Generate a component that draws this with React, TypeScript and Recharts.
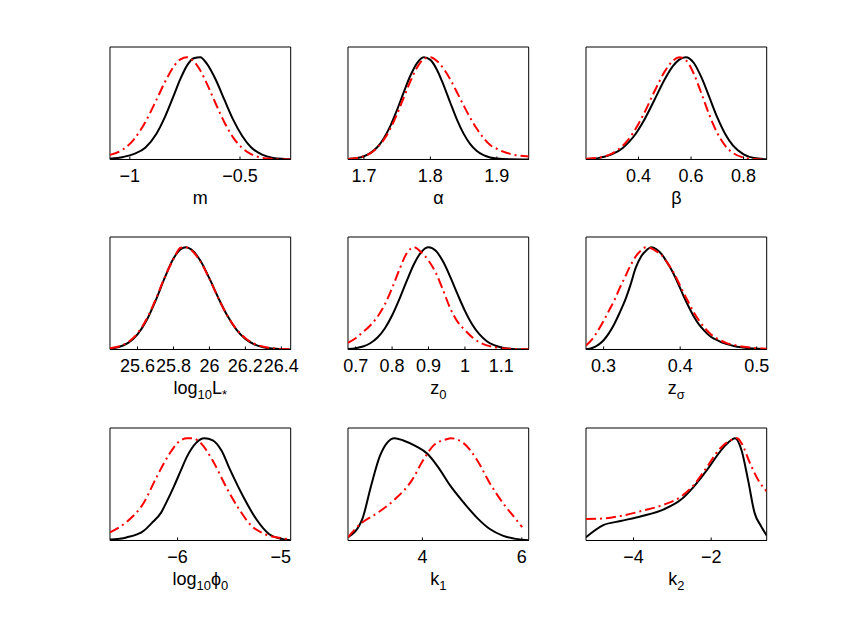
import React from 'react';
import { LineChart, Line, XAxis, YAxis, ReferenceArea } from 'recharts';

// ---------- Panel 1: m ----------
const mX = [-1.09, -1.03, -0.98, -0.93, -0.88, -0.84, -0.8, -0.77, -0.74, -0.71, -0.68, -0.65, -0.61, -0.57, -0.53, -0.49, -0.45, -0.4, -0.35, -0.3, -0.27];
const mBlack = [0.008, 0.025, 0.055, 0.115, 0.25, 0.42, 0.63, 0.79, 0.92, 0.99, 1.0, 0.935, 0.78, 0.58, 0.385, 0.23, 0.12, 0.047, 0.015, 0.005, 0.002];
const mRed = [0.045, 0.1, 0.2, 0.365, 0.58, 0.76, 0.912, 0.98, 1.0, 0.96, 0.87, 0.74, 0.545, 0.36, 0.212, 0.112, 0.052, 0.017, 0.005, 0.001, 0.0];
const mTicks = [-1, -0.5];

// ---------- Panel 2: alpha ----------
const aX = [1.676, 1.69, 1.7, 1.71, 1.72, 1.73, 1.74, 1.75, 1.76, 1.77, 1.78, 1.79, 1.8, 1.81, 1.82, 1.83, 1.84, 1.85, 1.86, 1.87, 1.88, 1.89, 1.9, 1.92, 1.948];
const aBlack = [0.004, 0.014, 0.032, 0.065, 0.12, 0.208, 0.331, 0.487, 0.659, 0.821, 0.943, 1.0, 0.974, 0.876, 0.726, 0.555, 0.39, 0.253, 0.151, 0.083, 0.042, 0.02, 0.009, 0.002, 0.0];
const aRed = [0.005, 0.015, 0.032, 0.063, 0.115, 0.194, 0.305, 0.446, 0.607, 0.766, 0.9, 0.982, 1.0, 0.962, 0.887, 0.782, 0.658, 0.529, 0.407, 0.3, 0.21, 0.141, 0.105, 0.055, 0.03];
const aTicks = [1.7, 1.8, 1.9];

// ---------- Panel 3: beta ----------
const bX = [0.2, 0.25, 0.3, 0.34, 0.38, 0.42, 0.46, 0.5, 0.53, 0.555, 0.58, 0.61, 0.64, 0.67, 0.7, 0.73, 0.76, 0.8, 0.84, 0.888];
const bBlack = [0.004, 0.016, 0.052, 0.113, 0.22, 0.38, 0.58, 0.785, 0.91, 0.977, 1.0, 0.946, 0.8, 0.607, 0.411, 0.249, 0.135, 0.051, 0.015, 0.003];
const bRed = [0.008, 0.019, 0.061, 0.135, 0.262, 0.445, 0.662, 0.862, 0.963, 1.0, 0.972, 0.841, 0.642, 0.433, 0.258, 0.135, 0.063, 0.019, 0.004, 0.0];
const bTicks = [0.4, 0.6, 0.8];

// ---------- Panel 4: log10 L* ----------
const lX = [25.447, 25.5, 25.55, 25.6, 25.65, 25.7, 25.75, 25.8, 25.84, 25.87, 25.9, 25.95, 26.0, 26.05, 26.1, 26.15, 26.2, 26.25, 26.3, 26.35, 26.4, 26.452];
const lBlack = [0.009, 0.027, 0.067, 0.148, 0.283, 0.475, 0.695, 0.889, 0.982, 1.0, 0.977, 0.867, 0.695, 0.503, 0.329, 0.195, 0.104, 0.05, 0.022, 0.009, 0.003, 0.001];
const lRed = [0.012, 0.032, 0.075, 0.158, 0.295, 0.485, 0.7, 0.885, 0.995, 1.0, 0.97, 0.86, 0.69, 0.5, 0.33, 0.2, 0.11, 0.056, 0.027, 0.012, 0.004, 0.002];
const lTicks = [25.6, 25.8, 26, 26.2, 26.4];

// ---------- Panel 5: z0 ----------
const zX = [0.679, 0.7, 0.72, 0.74, 0.76, 0.78, 0.8, 0.82, 0.84, 0.86, 0.88, 0.9, 0.92, 0.94, 0.96, 0.98, 1.0, 1.02, 1.04, 1.06, 1.08, 1.1, 1.13, 1.175];
const zBlack = [0.005, 0.013, 0.029, 0.061, 0.117, 0.205, 0.332, 0.492, 0.669, 0.834, 0.953, 1.0, 0.965, 0.86, 0.708, 0.538, 0.378, 0.245, 0.147, 0.081, 0.042, 0.02, 0.006, 0.001];
const zRed = [0.066, 0.11, 0.17, 0.235, 0.32, 0.44, 0.6, 0.78, 0.94, 1.0, 0.95, 0.87, 0.75, 0.58, 0.4, 0.27, 0.19, 0.12, 0.07, 0.04, 0.023, 0.013, 0.006, 0.003];
const zTicks = [0.7, 0.8, 0.9, 1, 1.1];

// ---------- Panel 6: z sigma ----------
const sX = [0.277, 0.285, 0.293, 0.3, 0.307, 0.314, 0.321, 0.328, 0.335, 0.342, 0.349, 0.356, 0.362, 0.369, 0.376, 0.383, 0.39, 0.397, 0.404, 0.411, 0.418, 0.425, 0.432, 0.44, 0.45, 0.46, 0.47, 0.48, 0.495, 0.513];
const sBlack = [0.003, 0.015, 0.045, 0.09, 0.16, 0.25, 0.36, 0.48, 0.63, 0.8, 0.91, 0.97, 1.0, 0.98, 0.93, 0.85, 0.76, 0.65, 0.53, 0.42, 0.32, 0.24, 0.18, 0.125, 0.085, 0.055, 0.035, 0.022, 0.01, 0.003];
const sRed = [0.04, 0.1, 0.19, 0.28, 0.38, 0.48, 0.6, 0.71, 0.82, 0.91, 0.97, 1.0, 0.99, 0.96, 0.92, 0.85, 0.77, 0.67, 0.56, 0.46, 0.36, 0.28, 0.21, 0.15, 0.1, 0.065, 0.045, 0.03, 0.016, 0.008];
const sTicks = [0.3, 0.4, 0.5];

// ---------- Panel 7: log10 phi0 ----------
const pBlackX = [-6.654, -6.495, -6.327, -6.25, -6.161, -6.1, -6.035, -5.97, -5.909, -5.825, -5.741, -5.659, -5.575, -5.491, -5.365, -5.239, -5.115, -4.989, -4.905];
const pBlack = [0.01, 0.03, 0.096, 0.17, 0.27, 0.39, 0.53, 0.68, 0.82, 0.95, 1.0, 0.98, 0.88, 0.69, 0.43, 0.21, 0.064, 0.016, 0.003];
const pRedX = [-6.654, -6.495, -6.327, -6.203, -6.077, -5.993, -5.909, -5.85, -5.783, -5.659, -5.533, -5.407, -5.281, -5.157, -4.989, -4.905];
const pRed = [0.08, 0.18, 0.37, 0.62, 0.85, 0.96, 1.0, 1.0, 0.96, 0.78, 0.53, 0.31, 0.14, 0.064, 0.022, 0.01];
const pTicks = [-6, -5];

// ---------- Panel 8: k1 ----------
const k1BlackX = [2.503, 2.79, 2.964, 3.138, 3.285, 3.442, 3.616, 3.877, 4.095, 4.313, 4.572, 4.834, 5.096, 5.357, 5.616, 5.878, 6.139];
const k1Black = [0.032, 0.208, 0.529, 0.818, 0.953, 1.0, 0.978, 0.92, 0.85, 0.72, 0.529, 0.369, 0.224, 0.112, 0.048, 0.016, 0.003];
const k1RedX = [2.503, 2.747, 3.096, 3.441, 3.79, 4.008, 4.226, 4.485, 4.572, 4.834, 5.096, 5.357, 5.616, 5.878, 6.008];
const k1Red = [0.032, 0.16, 0.27, 0.4, 0.59, 0.78, 0.93, 0.99, 1.0, 0.95, 0.79, 0.56, 0.37, 0.21, 0.13];
const k1Ticks = [4, 6];

// ---------- Panel 9: k2 ----------
const k2BlackX = [-5.223, -4.777, -4.333, -3.776, -3.218, -2.775, -2.44, -2.106, -1.77, -1.552, -1.384, -1.216, -1.049, -0.882, -0.714, -0.57];
const k2Black = [0.032, 0.15, 0.19, 0.24, 0.305, 0.4, 0.53, 0.69, 0.87, 0.96, 1.0, 0.88, 0.59, 0.27, 0.14, 0.048];
const k2RedX = [-5.223, -4.777, -4.333, -3.776, -3.218, -2.775, -2.44, -2.106, -1.77, -1.496, -1.329, -1.216, -0.993, -0.77, -0.57];
const k2Red = [0.21, 0.215, 0.24, 0.29, 0.35, 0.43, 0.545, 0.72, 0.9, 0.98, 1.0, 0.95, 0.75, 0.58, 0.48];
const k2Ticks = [-4, -2];

// ---------- layout / style ----------
const FONT = '"Liberation Sans", Arial, Helvetica, sans-serif';
const FS = 18;
const FS_SUB = 13;
const COL_X = [110.1, 347.9, 585.8];
const ROW_Y = [47.3, 237, 428.2];
const PW = 180.7;
const PH = 112.5;
const ML = 24;
const MR = 24;
const MT = 10;
const MB = 40;
const XH = 30;
const TOPH = 1;
const Y_DOMAIN: [number, number] = [0, 1.1];

type Part = { t: string; sub?: boolean };
type PanelDef = {
  col: number;
  row: number;
  domain: [number, number];
  ticks: number[];
  bx: number[];
  by: number[];
  rx: number[];
  ry: number[];
  label: Part[];
};

const panels: PanelDef[] = [
  { col: 0, row: 0, domain: [-1.09, -0.27], ticks: mTicks, bx: mX, by: mBlack, rx: mX, ry: mRed, label: [{ t: 'm' }] },
  { col: 1, row: 0, domain: [1.676, 1.948], ticks: aTicks, bx: aX, by: aBlack, rx: aX, ry: aRed, label: [{ t: 'α' }] },
  { col: 2, row: 0, domain: [0.2, 0.888], ticks: bTicks, bx: bX, by: bBlack, rx: bX, ry: bRed, label: [{ t: 'β' }] },
  { col: 0, row: 1, domain: [25.447, 26.452], ticks: lTicks, bx: lX, by: lBlack, rx: lX, ry: lRed, label: [{ t: 'log' }, { t: '10', sub: true }, { t: 'L' }, { t: '*', sub: true }] },
  { col: 1, row: 1, domain: [0.679, 1.175], ticks: zTicks, bx: zX, by: zBlack, rx: zX, ry: zRed, label: [{ t: 'z' }, { t: '0', sub: true }] },
  { col: 2, row: 1, domain: [0.277, 0.513], ticks: sTicks, bx: sX, by: sBlack, rx: sX, ry: sRed, label: [{ t: 'z' }, { t: 'σ', sub: true }] },
  { col: 0, row: 2, domain: [-6.654, -4.905], ticks: pTicks, bx: pBlackX, by: pBlack, rx: pRedX, ry: pRed, label: [{ t: 'log' }, { t: '10', sub: true }, { t: 'ϕ' }, { t: '0', sub: true }] },
  { col: 1, row: 2, domain: [2.503, 6.139], ticks: k1Ticks, bx: k1BlackX, by: k1Black, rx: k1RedX, ry: k1Red, label: [{ t: 'k' }, { t: '1', sub: true }] },
  { col: 2, row: 2, domain: [-5.223, -0.57], ticks: k2Ticks, bx: k2BlackX, by: k2Black, rx: k2RedX, ry: k2Red, label: [{ t: 'k' }, { t: '2', sub: true }] },
];

const pts = (xs: number[], ys: number[]) => xs.map((x, i) => ({ x, y: ys[i] }));
const fmt = (v: number) => String(v).replace('-', '\u2212');

function AxisTitle(props: any) {
  const vb = props.viewBox || {};
  const cx = (vb.x ?? 0) + (vb.width ?? 0) / 2;
  const y = (vb.y ?? 0) + 45;
  const parts: Part[] = props.parts || [];
  let prevSub = false;
  const spans = parts.map((p, i) => {
    let dy = 0;
    if (p.sub && !prevSub) dy = 5;
    if (!p.sub && prevSub) dy = -5;
    prevSub = !!p.sub;
    return (
      <tspan key={i} dy={dy} fontSize={p.sub ? FS_SUB : FS}>
        {p.t}
      </tspan>
    );
  });
  return (
    <text x={cx} y={y} textAnchor="middle" fontFamily={FONT} fontSize={FS} fill="#000">
      {spans}
    </text>
  );
}

function Panel({ p }: { p: PanelDef }) {
  const w = PW + ML + MR;
  const h = PH + MT + MB + XH;
  const left = COL_X[p.col] - ML;
  const top = ROW_Y[p.row] - MT;
  return (
    <div style={{ position: 'absolute', left, top, width: w, height: h }}>
      <LineChart width={w} height={h} margin={{ top: MT - TOPH, right: MR, bottom: MB, left: ML }}>
        <XAxis
          xAxisId="b"
          type="number"
          dataKey="x"
          domain={p.domain}
          allowDataOverflow
          ticks={p.ticks}
          interval={0}
          height={XH}
          tickSize={-3}
          tickMargin={13}
          tickLine={{ stroke: '#000', strokeWidth: 1 }}
          axisLine={{ stroke: '#000', strokeWidth: 1 }}
          tick={{ fill: '#000', fontSize: FS, fontFamily: FONT }}
          tickFormatter={fmt}
          label={<AxisTitle parts={p.label} />}
        />
        <XAxis
          xAxisId="t"
          orientation="top"
          type="number"
          dataKey="x"
          domain={p.domain}
          allowDataOverflow
          ticks={p.ticks}
          interval={0}
          height={TOPH}
          tickSize={-3}
          tick={false}
          tickLine={{ stroke: '#000', strokeWidth: 1 }}
          axisLine={false}
        />
        <YAxis yAxisId="l" type="number" domain={Y_DOMAIN} allowDataOverflow hide />
        <Line
          xAxisId="b"
          yAxisId="l"
          data={pts(p.bx, p.by)}
          dataKey="y"
          type="monotone"
          stroke="#000"
          strokeWidth={2}
          dot={false}
          isAnimationActive={false}
        />
        <Line
          xAxisId="b"
          yAxisId="l"
          data={pts(p.rx, p.ry)}
          dataKey="y"
          type="monotone"
          stroke="#ff0000"
          strokeWidth={2}
          strokeDasharray="10 4 2 4"
          dot={false}
          isAnimationActive={false}
        />
        <ReferenceArea
          xAxisId="b"
          yAxisId="l"
          x1={p.domain[0]}
          x2={p.domain[1]}
          y1={Y_DOMAIN[0]}
          y2={Y_DOMAIN[1]}
          fill="none"
          fillOpacity={0}
          stroke="#000"
          strokeWidth={1}
          strokeOpacity={1}
          ifOverflow="visible"
        />
      </LineChart>
    </div>
  );
}

export default function App() {
  return (
    <div style={{ position: 'absolute', left: 0, top: 0, width: 847, height: 637, background: '#fff' }}>
      {panels.map((p, i) => (
        <Panel key={i} p={p} />
      ))}
    </div>
  );
}
